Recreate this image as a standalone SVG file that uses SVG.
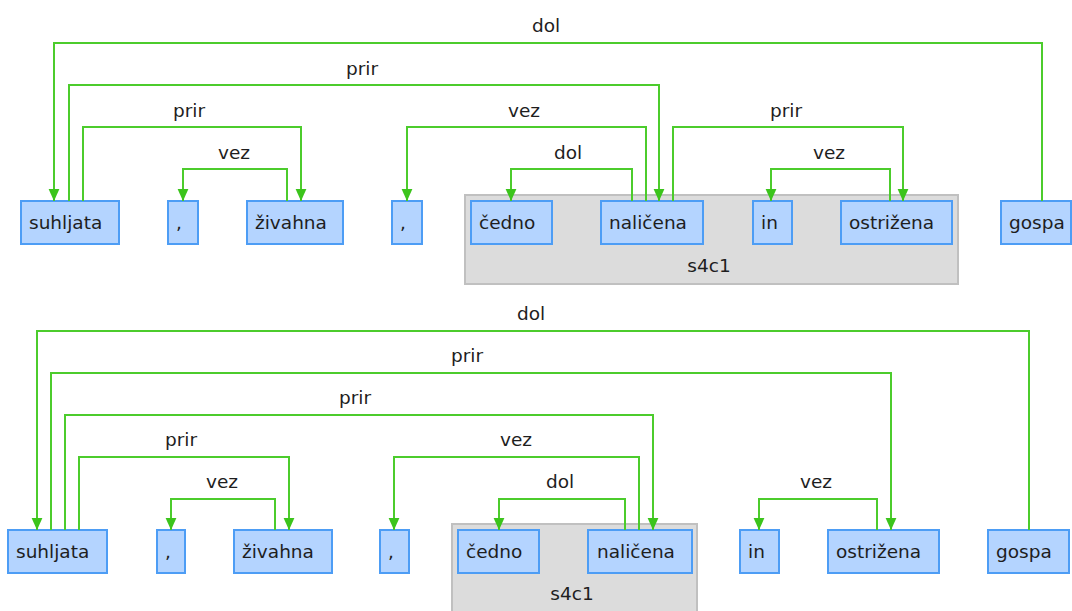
<svg xmlns="http://www.w3.org/2000/svg" width="1072" height="611" viewBox="0 0 1072 611">
<style>
.node rect{fill:#b4d4ff;stroke:#4d9df5;stroke-width:2}
.grp rect{fill:#dcdcdc;stroke:#c0c0c0;stroke-width:2}
text{font-family:"DejaVu Sans","Verdana",sans-serif;font-size:18.5px;fill:#1e1e1e}
.lbl{text-anchor:middle}
.edge{fill:none;stroke:#4ccc2c;stroke-width:2;marker-end:url(#arr)}
</style>
<defs>
<marker id="arr" markerUnits="userSpaceOnUse" markerWidth="12" markerHeight="12" viewBox="0 0 10 10" refX="10" refY="5" orient="auto">
<path d="M0,0.5 L10,5 L0,9.5 z" fill="#3cc41c"/>
</marker>
</defs>
<rect width="1072" height="611" fill="#ffffff"/>

<!-- ===== Top diagram ===== -->
<g id="s4c1_top" class="grp"><rect x="465" y="195" width="493" height="89"/><text class="lbl" x="709" y="272">s4c1</text></g>
<g id="t_suhljata" class="node"><rect x="21" y="201" width="98" height="43"/><text x="29" y="229">suhljata</text></g>
<g id="t_comma1" class="node"><rect x="168" y="201" width="30" height="43"/><text x="176" y="229">,</text></g>
<g id="t_zivahna" class="node"><rect x="247" y="201" width="96" height="43"/><text x="255" y="229">živahna</text></g>
<g id="t_comma2" class="node"><rect x="392" y="201" width="30" height="43"/><text x="400" y="229">,</text></g>
<g id="t_cedno" class="node"><rect x="471" y="201" width="81" height="43"/><text x="479" y="229">čedno</text></g>
<g id="t_nalicena" class="node"><rect x="601" y="201" width="102" height="43"/><text x="609" y="229">naličena</text></g>
<g id="t_in" class="node"><rect x="753" y="201" width="39" height="43"/><text x="761" y="229">in</text></g>
<g id="t_ostrizena" class="node"><rect x="841" y="201" width="111" height="43"/><text x="849" y="229">ostrižena</text></g>
<g id="t_gospa" class="node"><rect x="1001" y="201" width="70" height="43"/><text x="1009" y="229">gospa</text></g>

<g id="edges_top">
<path class="edge" d="M1042,201 V43 H54 V201"/>
<path class="edge" d="M69,201 V85 H659 V201"/>
<path class="edge" d="M83,201 V127 H301 V201"/>
<path class="edge" d="M287,201 V169 H183 V201"/>
<path class="edge" d="M646,201 V127 H407 V201"/>
<path class="edge" d="M632,201 V169 H511 V201"/>
<path class="edge" d="M673,201 V127 H903 V201"/>
<path class="edge" d="M890,201 V169 H771 V201"/>
<text class="lbl" x="546" y="32">dol</text>
<text class="lbl" x="362" y="75">prir</text>
<text class="lbl" x="189" y="117">prir</text>
<text class="lbl" x="234" y="159">vez</text>
<text class="lbl" x="524" y="117">vez</text>
<text class="lbl" x="568" y="159">dol</text>
<text class="lbl" x="786" y="117">prir</text>
<text class="lbl" x="829" y="159">vez</text>
</g>

<!-- ===== Bottom diagram ===== -->
<g id="s4c1_bottom" class="grp"><rect x="452" y="524" width="245" height="100"/><text class="lbl" x="572" y="600">s4c1</text></g>
<g id="b_suhljata" class="node"><rect x="8" y="530" width="99" height="43"/><text x="16" y="558">suhljata</text></g>
<g id="b_comma1" class="node"><rect x="157" y="530" width="28" height="43"/><text x="165" y="558">,</text></g>
<g id="b_zivahna" class="node"><rect x="234" y="530" width="98" height="43"/><text x="242" y="558">živahna</text></g>
<g id="b_comma2" class="node"><rect x="380" y="530" width="29" height="43"/><text x="388" y="558">,</text></g>
<g id="b_cedno" class="node"><rect x="458" y="530" width="81" height="43"/><text x="466" y="558">čedno</text></g>
<g id="b_nalicena" class="node"><rect x="588" y="530" width="104" height="43"/><text x="597" y="558">naličena</text></g>
<g id="b_in" class="node"><rect x="740" y="530" width="39" height="43"/><text x="748" y="558">in</text></g>
<g id="b_ostrizena" class="node"><rect x="828" y="530" width="111" height="43"/><text x="836" y="558">ostrižena</text></g>
<g id="b_gospa" class="node"><rect x="988" y="530" width="81" height="43"/><text x="996" y="558">gospa</text></g>

<g id="edges_bottom">
<path class="edge" d="M1029,530 V331 H37 V530"/>
<path class="edge" d="M51,530 V373 H891 V530"/>
<path class="edge" d="M65,530 V415 H653 V530"/>
<path class="edge" d="M79,530 V457 H289 V530"/>
<path class="edge" d="M275,530 V499 H171 V530"/>
<path class="edge" d="M639,530 V457 H394 V530"/>
<path class="edge" d="M625,530 V499 H499 V530"/>
<path class="edge" d="M877,530 V499 H759 V530"/>
<text class="lbl" x="531" y="320">dol</text>
<text class="lbl" x="467" y="362">prir</text>
<text class="lbl" x="355" y="404">prir</text>
<text class="lbl" x="181" y="446">prir</text>
<text class="lbl" x="222" y="488">vez</text>
<text class="lbl" x="516" y="446">vez</text>
<text class="lbl" x="560" y="488">dol</text>
<text class="lbl" x="816" y="488">vez</text>
</g>
</svg>
